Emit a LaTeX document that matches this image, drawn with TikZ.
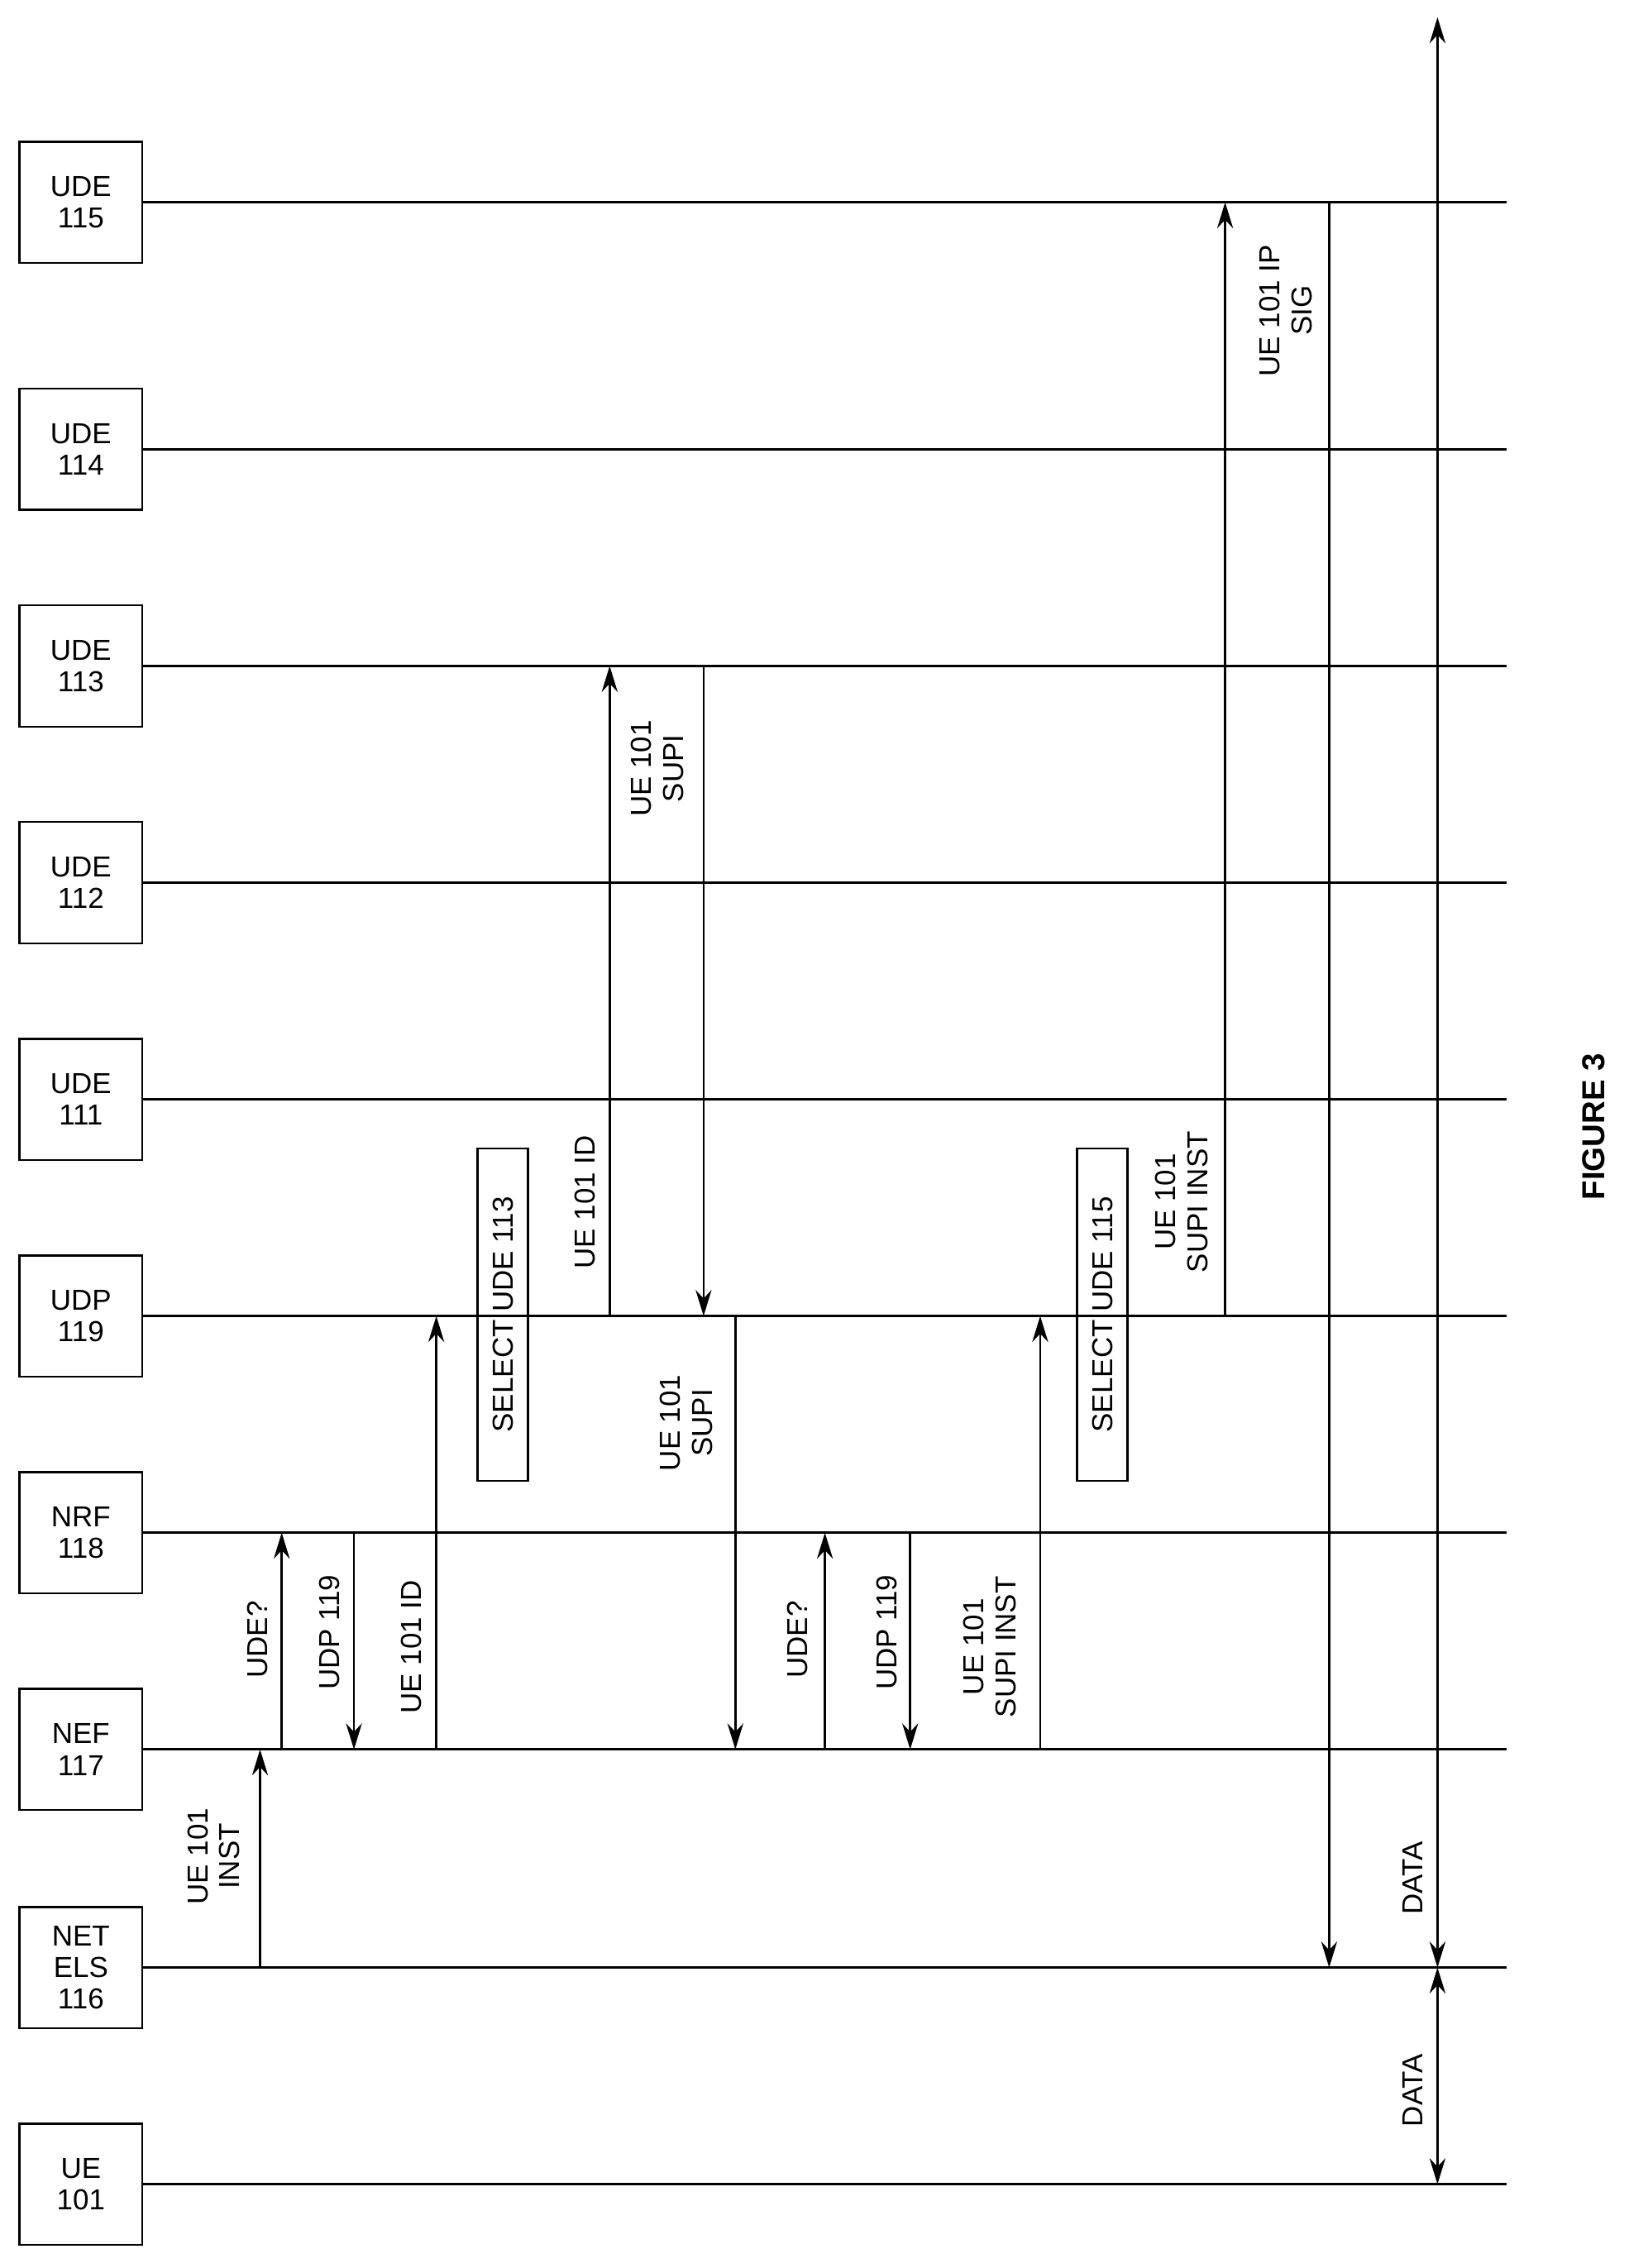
\documentclass[tikz,border=0pt]{standalone}
\usepackage{fontspec}
\setmainfont{Liberation Sans}
\usetikzlibrary{arrows.meta}
\begin{document}
\begin{tikzpicture}[x=1pt,y=-1pt,
box/.style={draw=black,line width=1.5pt,minimum width=85pt,minimum height=84pt,
  inner sep=0pt,align=center,font=\fontsize{20}{22}\selectfont},
life/.style={line width=1.5pt},
msg/.style={line width=1.5pt,-{Stealth[length=18pt,width=11pt]}},
data/.style={line width=1.5pt,{Stealth[length=18pt,width=11pt]}-{Stealth[length=18pt,width=11pt]}},
lbl/.style={rotate=90,align=center,font=\fontsize{20}{22}\selectfont,inner sep=0pt},
sel/.style={draw=black,line width=1.5pt,rotate=90,minimum width=230pt,minimum height=35pt,
  inner sep=0pt,font=\fontsize{20}{22}\selectfont}
]
\useasboundingbox (0,0) rectangle (1127,1570);
% entities
\node[box] (ue) at (56,1512) {UE\\101};
\node[box] (els) at (56,1362) {NET\\ELS\\116};
\node[box] (nef) at (56,1211) {NEF\\117};
\node[box] (nrf) at (56,1061) {NRF\\118};
\node[box] (udp) at (56,911) {UDP\\119};
\node[box] (ude1) at (56,761) {UDE\\111};
\node[box] (ude2) at (56,611) {UDE\\112};
\node[box] (ude3) at (56,461) {UDE\\113};
\node[box] (ude4) at (56,311) {UDE\\114};
\node[box] (ude5) at (56,140) {UDE\\115};
% lifelines
\foreach \n in {ue,els,nef,nrf,udp,ude1,ude2,ude3,ude4,ude5}
  \draw[life] (\n.east) -- (1043,0 |- \n);
% first lookup
\draw[msg] (180,0 |- els) -- (180,0 |- nef);
\node[lbl] (l1) at (148,1285) {UE 101\\INST};
\draw[msg] (195,0 |- nef) -- (195,0 |- nrf);
\node[lbl] (l2) at (178,1135) {UDE?};
\draw[msg] (245,0 |- nrf) -- (245,0 |- nef);
\node[lbl] (l3) at (228,1130) {UDP 119};
\draw[msg] (302,0 |- nef) -- (302,0 |- udp);
\node[lbl] (l4) at (285,1140) {UE 101 ID};
\node[sel] (s1) at (348,910) {SELECT UDE 113};
\draw[msg] (422,0 |- udp) -- (422,0 |- ude3);
\node[lbl] (l5) at (405,832) {UE 101 ID};
\draw[msg] (487,0 |- ude3) -- (487,0 |- udp);
\node[lbl] (l6) at (455,532) {UE 101\\SUPI};
\draw[msg] (509,0 |- udp) -- (509,0 |- nef);
\node[lbl] (l7) at (475,985) {UE 101\\SUPI};
% second lookup
\draw[msg] (571,0 |- nef) -- (571,0 |- nrf);
\node[lbl] (l8) at (552,1135) {UDE?};
\draw[msg] (630,0 |- nrf) -- (630,0 |- nef);
\node[lbl] (l9) at (614,1130) {UDP 119};
\draw[msg] (720,0 |- nef) -- (720,0 |- udp);
\node[lbl] (l10) at (685,1140) {UE 101\\SUPI INST};
\node[sel] (s2) at (763,910) {SELECT UDE 115};
\draw[msg] (848,0 |- udp) -- (848,0 |- ude5);
\node[lbl] (l11) at (818,832) {UE 101\\SUPI INST};
\draw[msg] (920,0 |- ude5) -- (920,0 |- els);
\node[lbl] (l12) at (890,215) {UE 101 IP\\SIG};
% data
\coordinate (top) at (995,12);
\draw[data] (995,0 |- els) -- (top);
\node[lbl] (l13) at (978,1300) {DATA};
\draw[data] (995,0 |- ue) -- (995,0 |- els);
\node[lbl] (l14) at (978,1447) {DATA};
\node[lbl,font=\bfseries\fontsize{22}{24}\selectfont] (fig) at (1103,780) {FIGURE 3};
\end{tikzpicture}
\end{document}
